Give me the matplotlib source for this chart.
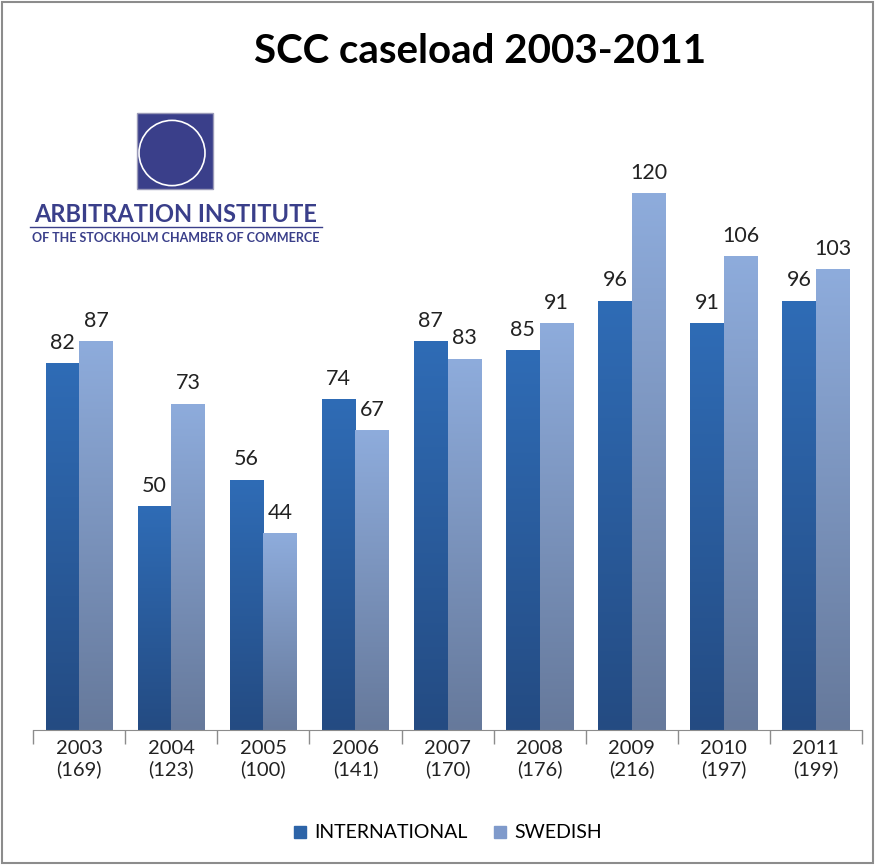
import numpy as np
import matplotlib
matplotlib.use("Agg")
import matplotlib.pyplot as plt
from matplotlib.patches import Rectangle, Circle
from matplotlib.lines import Line2D
from matplotlib.colors import LinearSegmentedColormap

# data
years = ["2003", "2004", "2005", "2006", "2007", "2008", "2009", "2010", "2011"]
totals = [169, 123, 100, 141, 170, 176, 216, 197, 199]
international = [82, 50, 56, 74, 87, 85, 96, 91, 96]
swedish = [87, 73, 44, 67, 83, 91, 120, 106, 103]

plt.rcParams['font.family'] = ['Lato', 'DejaVu Sans']

fig = plt.figure(figsize=(8.75, 8.65), dpi=100)
fig.patch.set_facecolor("white")
# grey frame around the whole chart
fig.patches.append(Rectangle((0.002, 0.002), 0.996, 0.996, transform=fig.transFigure,
                             fill=False, edgecolor="#8c8c8c", linewidth=1.5))

ax = fig.add_axes([0.038, 0.156, 0.947, 0.724])
x = np.arange(len(years))
w = 0.365

intl_cmap = LinearSegmentedColormap.from_list("intl", ["#2f6cb6", "#244b82"])
swe_cmap = LinearSegmentedColormap.from_list("swe", ["#8eacdc", "#66799b"])

bars_i = ax.bar(x - w / 2, international, w, color="#2d64a8")
bars_s = ax.bar(x + w / 2, swedish, w, color="#7f9acb")

# vertical gradient inside every bar, light at the top
grad = np.linspace(0, 1, 256).reshape(-1, 1)
for bars, cmap in [(bars_i, intl_cmap), (bars_s, swe_cmap)]:
    for b in bars:
        x0, y0, bw, bh = b.get_x(), b.get_y(), b.get_width(), b.get_height()
        im = ax.imshow(grad, cmap=cmap, extent=[x0, x0 + bw, y0, y0 + bh],
                       aspect="auto", zorder=2, origin="upper")
        im.set_clip_path(b)

for bars, vals in [(bars_i, international), (bars_s, swedish)]:
    for b, v in zip(bars, vals):
        ax.text(b.get_x() + b.get_width() / 2, v + 2.3, str(v), ha="center", va="bottom",
                fontsize=15.5, color="#222222")

ax.set_xlim(-0.5, len(years) - 0.5)
ax.set_ylim(0, 140)
ax.set_xticks(x)
ax.set_xticklabels([f"{y}\n({t})" for y, t in zip(years, totals)], fontsize=14.5,
                   color="#222222", linespacing=1.2)
ax.set_xticks(np.arange(-0.5, len(years)), minor=True)
ax.tick_params(axis="x", which="major", length=0, pad=7)
ax.tick_params(axis="x", which="minor", length=10, color="#8c8c8c", width=1)
ax.set_yticks([])
for s in ["top", "left", "right"]:
    ax.spines[s].set_visible(False)
ax.spines["bottom"].set_color("#8c8c8c")

fig.text(0.549, 0.94, "SCC caseload 2003-2011", ha="center", va="center",
         fontsize=29, fontweight="bold", color="black")

# logo
logo_col = "#3a3f8a"
fig.patches.append(Rectangle((137 / 875, 1 - 189 / 865), 76 / 875, 76 / 865,
                             transform=fig.transFigure, facecolor=logo_col, edgecolor="#9a9ab8", lw=1))
fig.patches.append(Circle((172 / 875, 1 - 153 / 865), 33 / 875, transform=fig.transFigure,
                          fill=False, edgecolor="white", lw=1.2))
fig.text(176 / 875, 1 - 214 / 865, "ARBITRATION INSTITUTE", ha="center", va="center",
         fontsize=17, fontweight="bold", color=logo_col)
fig.add_artist(Line2D([30 / 875, 322 / 875], [1 - 227 / 865, 1 - 227 / 865],
                      transform=fig.transFigure, color=logo_col, lw=1))
fig.text(176 / 875, 1 - 238 / 865, "OF THE STOCKHOLM CHAMBER OF COMMERCE", ha="center",
         va="center", fontsize=9, fontweight="bold", color=logo_col)

handles = [Line2D([], [], marker="s", linestyle="none", markersize=9, color="#2d64a8"),
           Line2D([], [], marker="s", linestyle="none", markersize=9, color="#7f9acb")]
fig.legend(handles, ["INTERNATIONAL", "SWEDISH"], loc="center", bbox_to_anchor=(0.511, 0.037),
           ncol=2, frameon=False, fontsize=14, handlelength=0.8, handletextpad=0.3,
           columnspacing=1.3)

fig.savefig("out.png", dpi=100)
